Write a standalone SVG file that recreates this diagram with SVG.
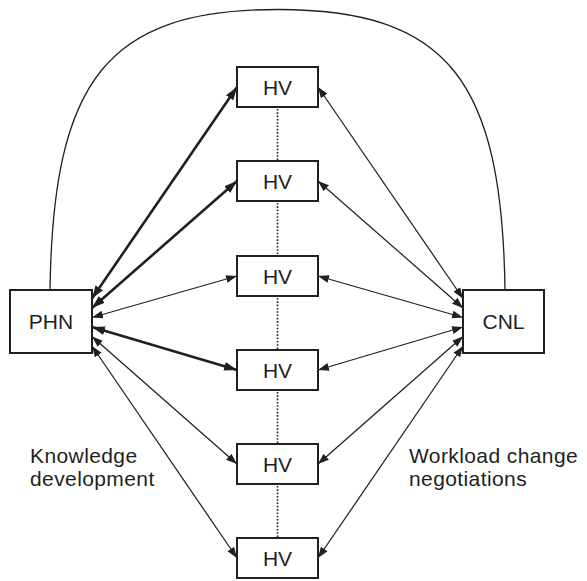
<svg xmlns="http://www.w3.org/2000/svg" width="587" height="581" viewBox="0 0 587 581">
<style>
.box{fill:#fff;stroke:#231f20;stroke-width:2}
.lbl{font-family:"Liberation Sans",Arial,sans-serif;font-size:21px;fill:#231f20;text-anchor:middle}
.note{font-family:"Liberation Sans",Arial,sans-serif;font-size:21px;letter-spacing:0.4px;fill:#231f20}
.thin{stroke:#231f20;stroke-width:1.25;fill:none;marker-start:url(#ahThin);marker-end:url(#ahThin)}
.thick{stroke:#231f20;stroke-width:2.6;fill:none;marker-start:url(#ahThick);marker-end:url(#ahThick)}
.dot{stroke:#231f20;stroke-width:1.6;stroke-dasharray:1.6 1.7;fill:none}
.arc{stroke:#231f20;stroke-width:1.3;fill:none}
</style>
<defs>
<marker id="ahThin" markerUnits="userSpaceOnUse" markerWidth="12" markerHeight="9" refX="11" refY="4" orient="auto-start-reverse" viewBox="0 0 12 8">
<path d="M0,0 L11,4 L0,8 Z" fill="#231f20"/>
</marker>
<marker id="ahThick" markerUnits="userSpaceOnUse" markerWidth="14" markerHeight="10" refX="13" refY="4.5" orient="auto-start-reverse" viewBox="0 0 14 9">
<path d="M0,0 L13,4.5 L0,9 Z" fill="#231f20"/>
</marker>
</defs>
<g id="connectors">
<path class="arc" d="M50,290 C53,80 107,9.5 277.5,9.5 C448,9.5 502,80 505,290"/>
<line class="dot" x1="277.5" y1="109" x2="277.5" y2="160"/>
<line class="dot" x1="277.5" y1="203" x2="277.5" y2="255"/>
<line class="dot" x1="277.5" y1="298" x2="277.5" y2="349"/>
<line class="dot" x1="277.5" y1="392" x2="277.5" y2="443"/>
<line class="dot" x1="277.5" y1="486" x2="277.5" y2="537"/>
<line class="thick" x1="92" y1="298.5" x2="237" y2="87"/>
<line class="thick" x1="92" y1="308" x2="237" y2="181"/>
<line class="thin" x1="92" y1="317.5" x2="237" y2="276"/>
<line class="thick" x1="92" y1="327" x2="237" y2="370"/>
<line class="thin" x1="92" y1="336.5" x2="237" y2="464"/>
<line class="thin" x1="92" y1="346" x2="237" y2="558"/>
<line class="thin" x1="463" y1="298.5" x2="318" y2="87"/>
<line class="thin" x1="463" y1="308" x2="318" y2="181"/>
<line class="thin" x1="463" y1="317.5" x2="318" y2="276"/>
<line class="thin" x1="463" y1="327" x2="318" y2="370"/>
<line class="thin" x1="463" y1="336.5" x2="318" y2="464"/>
<line class="thin" x1="463" y1="346" x2="318" y2="558"/>
</g>
<g id="PHN"><rect class="box" x="10" y="290" width="82" height="63"/><text class="lbl" x="51" y="329">PHN</text></g>
<g id="CNL"><rect class="box" x="463" y="290" width="81" height="63"/><text class="lbl" x="503.5" y="329">CNL</text></g>
<g id="HV1"><rect class="box" x="237" y="67" width="81" height="40"/><text class="lbl" x="277.5" y="94.5">HV</text></g>
<g id="HV2"><rect class="box" x="237" y="161" width="81" height="40"/><text class="lbl" x="277.5" y="188.5">HV</text></g>
<g id="HV3"><rect class="box" x="237" y="256" width="81" height="40"/><text class="lbl" x="277.5" y="283.5">HV</text></g>
<g id="HV4"><rect class="box" x="237" y="350" width="81" height="40"/><text class="lbl" x="277.5" y="377.5">HV</text></g>
<g id="HV5"><rect class="box" x="237" y="444" width="81" height="40"/><text class="lbl" x="277.5" y="471.5">HV</text></g>
<g id="HV6"><rect class="box" x="237" y="538" width="81" height="40"/><text class="lbl" x="277.5" y="565.5">HV</text></g>
<g id="labels">
<text class="note" x="30" y="462.5">Knowledge</text>
<text class="note" x="30" y="486">development</text>
<text class="note" x="409" y="462.5">Workload change</text>
<text class="note" x="409" y="486">negotiations</text>
</g>
</svg>
